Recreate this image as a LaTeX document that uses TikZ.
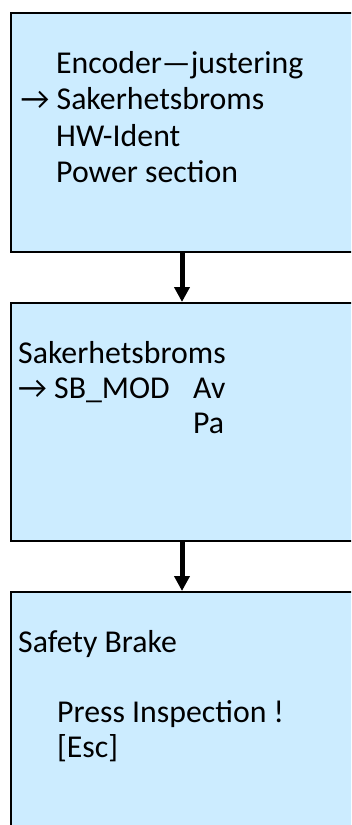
\documentclass[tikz,border=0pt]{standalone}
\usepackage{fontspec}
\setmainfont{Carlito}
\usetikzlibrary{arrows.meta}
\definecolor{boxfill}{RGB}{204,236,255}
\tikzset{
  box/.style={draw=black, line width=1.5pt, fill=boxfill, rectangle, anchor=north west, minimum width=360pt, inner sep=0pt},
  txt/.style={anchor=base west, inner sep=0pt, font=\fontsize{31.8}{36}\selectfont},
  conn/.style={line width=5pt, -{Triangle[width=15pt,length=15pt]}}
}
\begin{document}
\begin{tikzpicture}[x=1pt,y=-1pt]
\useasboundingbox (0,0) rectangle (351,825);
\clip (0,0) rectangle (351,825);
\fill[white] (0,0) rectangle (351,825);
\node[box, minimum height=239pt] (b1) at (10,12) {};
\node[box, minimum height=238pt] (b2) at (10,302) {};
\node[box, minimum height=250pt] (b3) at (10,591) {};
\coordinate (ax) at (182,0);
\draw[conn] (ax |- b1.south) -- (ax |- b2.north);
\draw[conn] (ax |- b2.south) -- (ax |- b3.north);
% box 1
\node[txt] (t11) at (56,73) {Encoder—justering};
\node[txt] (t12) at (20.5,109.5) {→ Sakerhetsbroms};
\node[txt] (t13) at (56,146) {HW-Ident};
\node[txt] (t14) at (56,182.5) {Power section};
% box 2
\node[txt] (t21) at (18,363) {Sakerhetsbroms};
\node[txt] (t22) at (18,398) {→ SB\_MOD};
\node[txt] (t23) at (193,398) {Av};
\node[txt] (t24) at (193,433) {Pa};
% box 3
\node[txt] (t31) at (18,652) {Safety Brake};
\node[txt] (t32) at (57,722) {Press Inspection !};
\node[txt] (t33) at (57,757) {[Esc]};
\end{tikzpicture}
\end{document}
